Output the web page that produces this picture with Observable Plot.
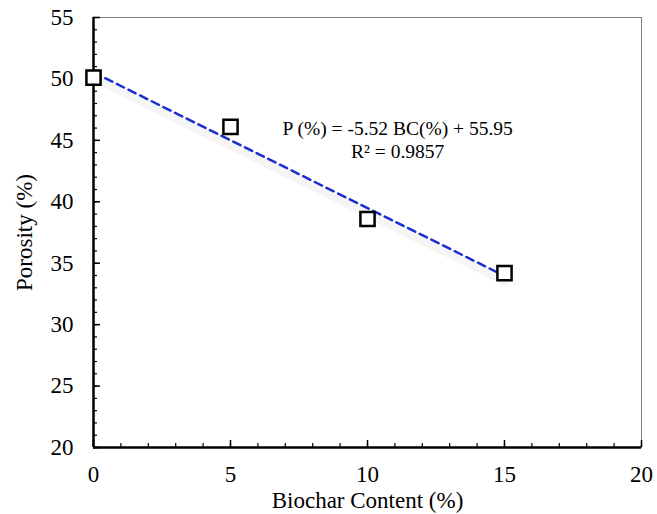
<!DOCTYPE html>
<html>
<head>
<meta charset="utf-8">
<script src="https://cdn.jsdelivr.net/npm/d3@7"></script>
<script src="https://cdn.jsdelivr.net/npm/@observablehq/plot@0.6"></script>
<style>
  html, body { margin: 0; padding: 0; background: #fff; }
  #chart svg { display: block; }
</style>
</head>
<body>
<div id="chart"></div>
<script>
const biocharContent = [0, 5, 10, 15];
const porosity = [50.1, 46.1, 38.6, 34.2];
const xMajorTicks = [0, 5, 10, 15, 20];
const xMinorTicks = d3.range(0, 21, 1);
const yMajorTicks = [20, 25, 30, 35, 40, 45, 50, 55];
const yMinorTicks = d3.range(20, 56, 1);
const equationLines = ["P (%) = -5.52 BC(%) + 55.95", "R² = 0.9857"];

const data = biocharContent.map((x, i) => ({x, y: porosity[i]}));
const font = "Liberation Serif, Times New Roman, serif";

const chart = Plot.plot({
  width: 657,
  height: 514,
  marginLeft: 93,
  marginRight: 16,
  marginTop: 17,
  marginBottom: 67,
  style: {fontFamily: font, fontSize: "23px", color: "#000", background: "#fff"},
  x: {domain: [0, 20]},
  y: {domain: [20, 55]},
  marks: [
    Plot.frame({stroke: "#7f7f7f", strokeWidth: 1}),
    Plot.linearRegressionY(data, {x: "x", y: "y", ci: 0, stroke: "#f5f5f5", strokeWidth: 9, dy: 5}),
    Plot.linearRegressionY(data, {x: "x", y: "y", ci: 0, stroke: "#1a2fd0", strokeWidth: 2.5, strokeDasharray: "8,5"}),
    Plot.ruleX([0], {stroke: "#000", strokeWidth: 2.5}),
    Plot.ruleY([20], {stroke: "#000", strokeWidth: 2.5}),
    Plot.axisY({ticks: yMinorTicks, tickSize: -4, text: null, label: null, strokeWidth: 1.2}),
    Plot.axisY({ticks: yMajorTicks, tickSize: -7, text: null, label: null, strokeWidth: 1.5}),
    Plot.axisY({ticks: yMajorTicks, tickSize: 0, tickPadding: 20, fontSize: 23, label: "Porosity (%)", labelAnchor: "center", labelArrow: "none", labelOffset: 78}),
    Plot.axisX({ticks: xMinorTicks, tickSize: -4, text: null, label: null, strokeWidth: 1.2}),
    Plot.axisX({ticks: xMajorTicks, tickSize: 0, tickPadding: 18, fontSize: 23, label: "Biochar Content (%)", labelAnchor: "center", labelArrow: "none", labelOffset: 60}),
    Plot.axisX({ticks: xMajorTicks, tickSize: -7, text: null, label: null, strokeWidth: 1.5}),
    Plot.dot(data, {x: "x", y: "y", symbol: "square", r: 8, stroke: "#000", strokeWidth: 2.5, fill: "#fff"}),
    Plot.text([equationLines.join("\n")], {x: 11.1, y: 45.1, fontSize: 19.5, lineHeight: 1.15, fill: "#000", textAnchor: "middle"})
  ]
});
document.getElementById("chart").appendChild(chart);
</script>
</body>
</html>
